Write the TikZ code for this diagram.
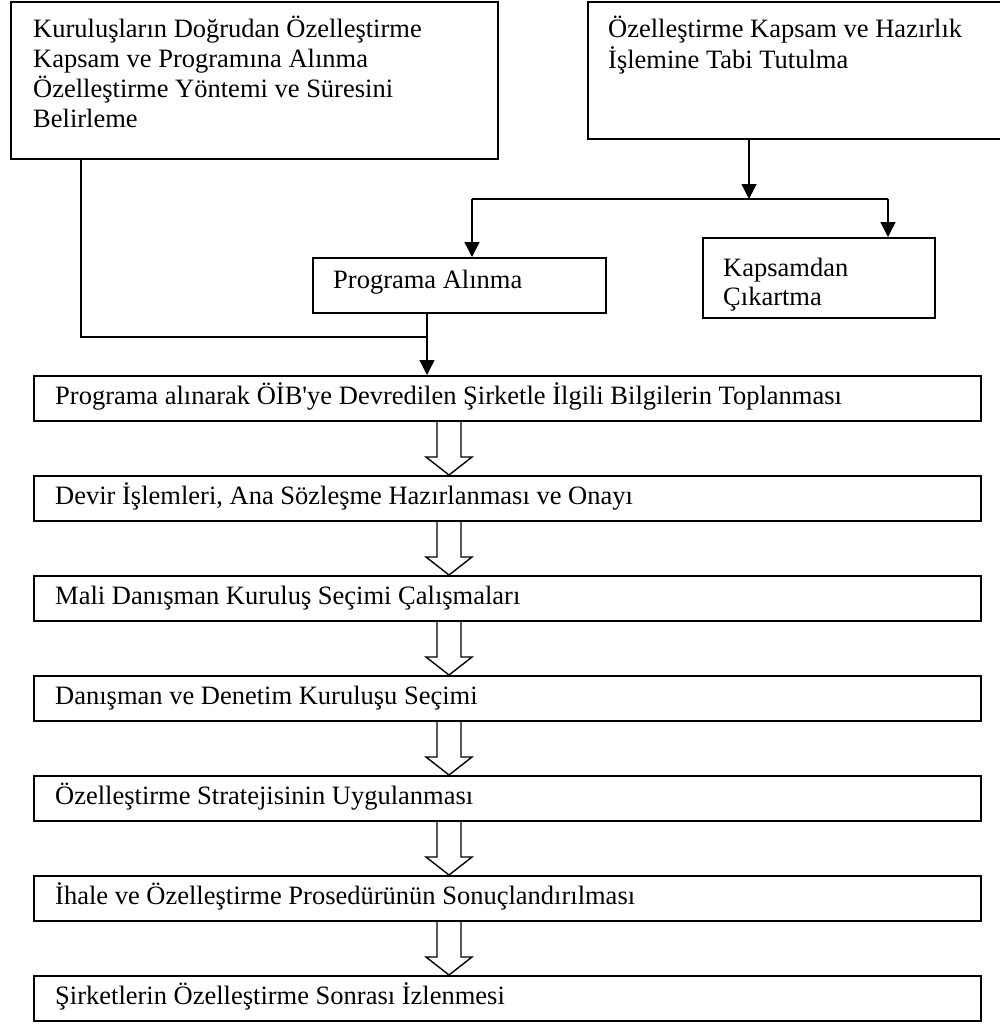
\documentclass[tikz,border=0pt]{standalone}
\usepackage{fontspec}
\setmainfont{Liberation Serif}
\usetikzlibrary{arrows.meta,calc}
\begin{document}
\begin{tikzpicture}[x=1pt,y=-1pt,
  box/.style={draw, line width=1.6pt, inner sep=0pt, anchor=north west},
  txt/.style={inner sep=0pt, anchor=base west, font=\fontsize{26.5}{30.5}\selectfont},
  conn/.style={line width=1.4pt},
  arr/.style={conn, -{Triangle[length=15pt,width=15pt]}},
  hollow/.style={line width=1.4pt, line join=miter}]
\useasboundingbox (0,0) rectangle (1000,1031);

% top boxes
\node[box, minimum width=487pt, minimum height=157pt] (B1) at (10,1) {};
\node[txt] (t1a) at (33,37) {Kuruluşların Doğrudan Özelleştirme};
\node[txt] (t1b) at (33,67) {Kapsam ve Programına Alınma};
\node[txt] (t1c) at (33,97) {Özelleştirme Yöntemi ve Süresini};
\node[txt] (t1d) at (33,127) {Belirleme};

\node[box, minimum width=420pt, minimum height=137pt] (B2) at (587,1) {};
\node[txt] (t2a) at (608,37) {Özelleştirme Kapsam ve Hazırlık};
\node[txt] (t2b) at (608,68) {İşlemine Tabi Tutulma};

% middle boxes
\node[box, minimum width=293pt, minimum height=55pt] (P) at (312,257) {};
\node[txt] (tp) at (333,288) {Programa Alınma};
\node[box, minimum width=232pt, minimum height=80pt] (K) at (702,237) {};
\node[txt] (tka) at (723,276) {Kapsamdan};
\node[txt] (tkb) at (723,305) {Çıkartma};

% long boxes
\foreach \i/\t in {1/{Programa alınarak ÖİB\textquotesingle ye Devredilen Şirketle İlgili Bilgilerin Toplanması},
                   2/{Devir İşlemleri, Ana Sözleşme Hazırlanması ve Onayı},
                   3/{Mali Danışman Kuruluş Seçimi Çalışmaları},
                   4/{Danışman ve Denetim Kuruluşu Seçimi},
                   5/{Özelleştirme Stratejisinin Uygulanması},
                   6/{İhale ve Özelleştirme Prosedürünün Sonuçlandırılması},
                   7/{Şirketlerin Özelleştirme Sonrası İzlenmesi}}{
  \node[box, minimum width=947pt, minimum height=45pt] (L\i) at (33,{375+100*(\i-1)}) {};
  \node[txt] (LT\i) at (55,{404+100*(\i-1)}) {\t};
}

% helper coordinates
\coordinate (lx) at (81,0);
\coordinate (cx) at (427,0);
\coordinate (J) at (427,337);
\coordinate (split) at (749,199);
\coordinate (sl) at (472,199);
\coordinate (sr) at (888,199);
\coordinate (hx) at (449,0);

% connectors
\draw[arr] (B2.south -| split) -- (split);
\draw[conn] (sl) -- (sr);
\draw[arr] (sl) -- (P.north -| sl);
\draw[arr] (sr) -- (K.north -| sr);
\draw[conn] (B1.south -| lx) |- (J);
\draw[arr] (P.south -| cx) -- (L1.north -| cx);

% hollow arrows
\foreach \a/\b in {L1/L2,L2/L3,L3/L4,L4/L5,L5/L6,L6/L7}{
  \draw[hollow] ($(\a.south -| hx)+(-12,0)$) -- ($(\b.north -| hx)+(-12,-18)$)
    -- ($(\b.north -| hx)+(-23,-18)$) -- (\b.north -| hx)
    -- ($(\b.north -| hx)+(23,-18)$) -- ($(\b.north -| hx)+(12,-18)$)
    -- ($(\a.south -| hx)+(12,0)$);
}
\end{tikzpicture}
\end{document}
